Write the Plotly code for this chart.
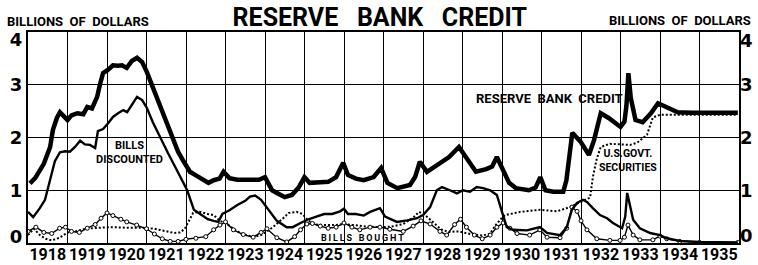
import plotly.graph_objects as go

# ---------------- data (billions of dollars) ----------------
credit_x = [1918.05, 1918.18, 1918.4, 1918.56, 1918.63, 1918.73, 1918.81, 1918.92, 1919.0, 1919.1,
            1919.25, 1919.4, 1919.5, 1919.62, 1919.68, 1919.75, 1919.82, 1919.9, 1920.02, 1920.15,
            1920.28, 1920.38, 1920.5, 1920.63, 1920.76, 1920.89, 1921.01, 1921.14, 1921.29, 1921.47,
            1921.65, 1921.8, 1921.92, 1922.1, 1922.23, 1922.4, 1922.57, 1922.7, 1922.85, 1922.95,
            1923.1, 1923.3, 1923.6, 1923.85, 1924.0, 1924.18, 1924.35, 1924.5, 1924.68, 1924.85,
            1925.0, 1925.13, 1925.4, 1925.6, 1925.8, 1925.98, 1926.1, 1926.3, 1926.5, 1926.75,
            1926.94, 1927.1, 1927.35, 1927.67, 1927.8, 1927.92, 1928.1, 1928.3, 1928.47, 1928.66,
            1928.91, 1929.09, 1929.34, 1929.6, 1929.75, 1929.87, 1930.0, 1930.18, 1930.35, 1930.5,
            1930.68, 1930.85, 1930.97, 1931.1, 1931.3, 1931.55, 1931.63, 1931.78, 1932.0, 1932.2,
            1932.33, 1932.5, 1932.7, 1933.0, 1933.1, 1933.15, 1933.2, 1933.26, 1933.38, 1933.56,
            1933.77, 1933.95, 1934.2, 1934.45, 1934.8, 1935.3, 1935.97]
credit_y = [1.13, 1.23, 1.5, 1.82, 2.14, 2.37, 2.48, 2.4, 2.33, 2.42,
            2.46, 2.44, 2.58, 2.55, 2.64, 2.77, 3.0, 3.22, 3.28, 3.37,
            3.36, 3.37, 3.32, 3.45, 3.51, 3.43, 3.24, 2.99, 2.67, 2.37,
            2.01, 1.73, 1.57, 1.35, 1.29, 1.22, 1.14, 1.19, 1.22, 1.35,
            1.23, 1.2, 1.19, 1.2, 1.25, 1.0, 0.93, 0.87, 0.91, 1.05,
            1.25, 1.14, 1.15, 1.16, 1.25, 1.52, 1.29, 1.22, 1.19, 1.25,
            1.42, 1.14, 1.04, 1.1, 1.25, 1.54, 1.35, 1.45, 1.52, 1.63,
            1.82, 1.63, 1.35, 1.4, 1.45, 1.63, 1.42, 1.14, 1.04, 1.02,
            1.0, 1.05, 1.25, 1.0, 0.97, 0.97, 1.19, 2.09, 1.91, 1.67,
            1.95, 2.46, 2.37, 2.2, 2.3, 2.6, 3.22, 2.75, 2.33, 2.29,
            2.46, 2.65, 2.56, 2.48, 2.47, 2.47, 2.47]

discounted_x = [1918.0, 1918.13, 1918.3, 1918.43, 1918.56, 1918.68, 1918.81, 1918.94, 1919.06, 1919.19,
                1919.32, 1919.44, 1919.57, 1919.7, 1919.77, 1919.9, 1920.03, 1920.15, 1920.28, 1920.41,
                1920.51, 1920.63, 1920.76, 1920.89, 1921.01, 1921.16, 1921.34, 1921.54, 1921.77, 1921.9,
                1922.03, 1922.2, 1922.4, 1922.55, 1922.7, 1922.82, 1922.92, 1923.1, 1923.3, 1923.5,
                1923.62, 1923.75, 1923.9, 1924.1, 1924.3, 1924.55, 1924.7, 1924.9, 1925.1, 1925.3,
                1925.5, 1925.7, 1925.9, 1926.0, 1926.1, 1926.3, 1926.5, 1926.66, 1926.91, 1927.04,
                1927.34, 1927.6, 1927.85, 1928.0, 1928.18, 1928.35, 1928.48, 1928.68, 1928.86, 1929.01,
                1929.19, 1929.36, 1929.52, 1929.7, 1929.87, 1930.0, 1930.12, 1930.28, 1930.63, 1930.96,
                1931.14, 1931.47, 1931.64, 1931.77, 1931.9, 1932.05, 1932.15, 1932.3, 1932.48, 1932.66,
                1932.81, 1933.04, 1933.12, 1933.17, 1933.24, 1933.32, 1933.49, 1933.75, 1934.0, 1934.17,
                1934.5, 1935.0, 1935.97]
discounted_y = [0.59, 0.49, 0.66, 0.82, 1.2, 1.55, 1.72, 1.74, 1.73, 1.82,
                1.94, 1.87, 1.86, 1.8, 2.12, 2.16, 2.27, 2.39, 2.46, 2.52,
                2.48, 2.62, 2.77, 2.71, 2.56, 2.29, 2.01, 1.71, 1.38, 1.2,
                1.0, 0.63, 0.52, 0.45, 0.42, 0.4, 0.55, 0.62, 0.72, 0.8,
                0.88, 0.9, 0.82, 0.63, 0.42, 0.3, 0.3, 0.38, 0.45, 0.5,
                0.55, 0.55, 0.6, 0.65, 0.55, 0.55, 0.52, 0.59, 0.66, 0.5,
                0.4, 0.43, 0.47, 0.53, 0.68, 1.0, 1.06, 1.0, 0.94, 1.0,
                0.97, 1.06, 1.04, 1.0, 0.91, 0.59, 0.3, 0.25, 0.24, 0.3,
                0.19, 0.15, 0.3, 0.63, 0.76, 0.82, 0.78, 0.66, 0.53, 0.47,
                0.38, 0.28, 0.5, 0.95, 0.68, 0.44, 0.28, 0.19, 0.15, 0.09,
                0.04, 0.02, 0.01]

bought_x = [1918.0, 1918.2, 1918.4, 1918.6, 1918.8, 1918.95, 1919.1, 1919.3, 1919.5, 1919.7,
            1919.85, 1920.0, 1920.15, 1920.35, 1920.5, 1920.75, 1921.0, 1921.2, 1921.4, 1921.6,
            1921.8, 1922.0, 1922.25, 1922.5, 1922.7, 1922.86, 1923.0, 1923.2, 1923.45, 1923.7,
            1923.9, 1924.05, 1924.3, 1924.55, 1924.75, 1924.9, 1925.06, 1925.2, 1925.4, 1925.6,
            1925.8, 1926.0, 1926.2, 1926.4, 1926.66, 1926.91, 1927.16, 1927.5, 1927.75, 1927.95,
            1928.18, 1928.43, 1928.6, 1928.8, 1928.95, 1929.1, 1929.3, 1929.5, 1929.7, 1929.87,
            1930.03, 1930.2, 1930.38, 1930.7, 1930.96, 1931.14, 1931.47, 1931.64, 1931.77, 1931.9,
            1932.0, 1932.15, 1932.4, 1932.73, 1932.99, 1933.1, 1933.19, 1933.32, 1933.49, 1933.82,
            1934.0, 1934.17, 1934.5, 1935.0, 1935.97]
bought_y = [0.22, 0.3, 0.2, 0.18, 0.28, 0.3, 0.22, 0.2, 0.28, 0.35,
            0.47, 0.57, 0.52, 0.45, 0.4, 0.34, 0.27, 0.17, 0.08, 0.03,
            0.03, 0.07, 0.09, 0.12, 0.25, 0.34, 0.4, 0.25, 0.16, 0.11,
            0.2, 0.27, 0.1, 0.02, 0.12, 0.25, 0.36, 0.37, 0.32, 0.28,
            0.3, 0.38, 0.3, 0.25, 0.3, 0.3, 0.26, 0.22, 0.32, 0.42,
            0.36, 0.22, 0.15, 0.35, 0.45, 0.3, 0.15, 0.08, 0.15, 0.3,
            0.38, 0.28, 0.18, 0.15, 0.25, 0.11, 0.1, 0.28, 0.68, 0.6,
            0.42, 0.25, 0.08, 0.05, 0.05, 0.11, 0.34, 0.15, 0.06, 0.06,
            0.13, 0.08, 0.03, 0.01, 0.01]

govt_x = [1918.0, 1918.15, 1918.3, 1918.45, 1918.6, 1918.8, 1919.0, 1919.2, 1919.4, 1919.6,
          1919.85, 1920.1, 1920.5, 1920.9, 1921.2, 1921.5, 1921.7, 1921.85, 1921.97, 1922.18,
          1922.35, 1922.55, 1922.7, 1922.86, 1923.0, 1923.2, 1923.4, 1923.7, 1923.9, 1924.05,
          1924.2, 1924.46, 1924.6, 1924.8, 1924.95, 1925.1, 1925.3, 1925.5, 1925.8, 1926.0,
          1926.3, 1926.6, 1926.9, 1927.2, 1927.5, 1927.75, 1927.9, 1928.05, 1928.25, 1928.45,
          1928.65, 1928.9, 1929.2, 1929.5, 1929.7, 1929.85, 1930.0, 1930.08, 1930.46, 1930.96,
          1931.39, 1931.72, 1932.05, 1932.23, 1932.3, 1932.4, 1932.5, 1932.73, 1933.0, 1933.24,
          1933.42, 1933.67, 1933.82, 1934.0, 1935.97]
govt_y = [0.15, 0.27, 0.15, 0.08, 0.05, 0.1, 0.2, 0.22, 0.26, 0.28,
          0.29, 0.3, 0.29, 0.29, 0.27, 0.22, 0.19, 0.2, 0.27, 0.57,
          0.59, 0.55, 0.53, 0.42, 0.38, 0.27, 0.18, 0.11, 0.15, 0.22,
          0.3, 0.47, 0.57, 0.59, 0.55, 0.42, 0.35, 0.34, 0.34, 0.36,
          0.33, 0.31, 0.3, 0.31, 0.36, 0.48, 0.59, 0.53, 0.4, 0.26,
          0.21, 0.22, 0.17, 0.14, 0.18, 0.35, 0.48, 0.53, 0.59, 0.63,
          0.6, 0.68, 0.8, 0.86, 1.25, 1.6, 1.82, 1.88, 1.87, 1.86,
          1.9, 2.05, 2.38, 2.43, 2.43]

years = list(range(1918, 1936))
year_labels = [str(y) for y in years]
y_grid = [1, 2, 3]
y_labels = ["0", "1", "2", "3", "4"]
# label positions: the end labels sit just inside the frame, as in the original
y_label_pos_left = [0.12, 1, 2, 3, 3.85]
y_label_pos_right = [0.13, 1, 2, 3, 3.83]

NARROW = "Roboto, Liberation Sans, sans-serif"
WIDE = "DejaVu Sans, Verdana, sans-serif"
SP = "\u00a0"

fig = go.Figure()
fig.add_trace(go.Scatter(x=govt_x, y=govt_y, mode="lines",
                         line=dict(color="black", width=2, dash="2px,2px"),
                         name="U.S. Govt. securities"))
fig.add_trace(go.Scatter(x=bought_x, y=bought_y, mode="lines+markers",
                         line=dict(color="black", width=1.4),
                         marker=dict(symbol="circle", size=4, color="white",
                                     line=dict(color="black", width=1)),
                         name="Bills bought"))
fig.add_trace(go.Scatter(x=discounted_x, y=discounted_y, mode="lines",
                         line=dict(color="black", width=2.4), name="Bills discounted"))
fig.add_trace(go.Scatter(x=credit_x, y=credit_y, mode="lines",
                         line=dict(color="black", width=4.5), name="Reserve bank credit"))
# invisible trace to activate right-hand axis
fig.add_trace(go.Scatter(x=[1918], y=[0], yaxis="y2", mode="markers",
                         marker=dict(opacity=0), hoverinfo="skip", showlegend=False))

annotations = [
    dict(text=f"BILLIONS{SP*2}OF{SP*2}DOLLARS", xref="paper", yref="paper",
         x=-0.0323, y=1.05, xanchor="left", yanchor="middle", showarrow=False,
         font=dict(family=NARROW, size=13, color="black", weight="bold")),
    dict(text=f"BILLIONS{SP*2}OF{SP*2}DOLLARS", xref="paper", yref="paper",
         x=1.0197, y=1.055, xanchor="right", yanchor="middle", showarrow=False,
         font=dict(family=NARROW, size=13, color="black", weight="bold")),
    dict(text=f"RESERVE{SP*2}BANK{SP*2}CREDIT", x=1931.2, y=2.73, showarrow=False,
         font=dict(family=NARROW, size=13, color="black", weight="bold")),
    dict(text="BILLS<br>DISCOUNTED", x=1920.56, y=1.71, showarrow=False,
         font=dict(family=NARROW, size=11, color="black", weight="bold")),
    dict(text="U.S.GOVT.<br>SECURITIES", x=1933.19, y=1.57, showarrow=False,
         font=dict(family=NARROW, size=10.5, color="black", weight="bold")),
    dict(text="B\u2009I\u2009L\u2009L\u2009S" + SP * 3 + "B\u2009O\u2009U\u2009G\u2009H\u2009T",
         x=1926.46, y=0.095, showarrow=False,
         font=dict(family=NARROW, size=9, color="black", weight="bold")),
]

fig.update_layout(
    width=758, height=265,
    margin=dict(l=28, r=19, t=32, b=22, autoexpand=False),
    paper_bgcolor="white", plot_bgcolor="white",
    showlegend=False,
    title=dict(text=f"RESERVE{SP*3}BANK{SP*3}CREDIT", x=0.501, xanchor="center",
               y=1 - 17 / 265, yanchor="middle",
               font=dict(family=NARROW, size=25, color="black", weight="bold")),
    xaxis=dict(range=[1918, 1936], tickmode="array", automargin=False,
               tickvals=[y + 0.5 for y in years], ticktext=year_labels, tickangle=0,
               ticklabelstandoff=-4,
               showgrid=False, zeroline=False, ticks="",
               showline=True, linecolor="black", linewidth=2, mirror=True,
               tickfont=dict(family=NARROW, size=16, color="black", weight="bold"),
               minor=dict(tickmode="linear", tick0=1918, dtick=1, showgrid=True,
                          gridcolor="black", gridwidth=1.3, ticks="")),
    yaxis=dict(range=[0, 4], tickmode="array", tickvals=y_label_pos_left, ticktext=y_labels,
               automargin=False, showgrid=False, zeroline=False, ticks="",
               showline=True, linecolor="black", linewidth=2, mirror=True,
               tickfont=dict(family=WIDE, size=18, color="black", weight="bold"),
               minor=dict(tickmode="array", tickvals=y_grid, showgrid=True,
                          gridcolor="black", gridwidth=1.3, ticks="")),
    yaxis2=dict(range=[0, 4], overlaying="y", side="right", tickmode="array",
                automargin=False,
                tickvals=y_label_pos_right, ticktext=y_labels, showgrid=False, zeroline=False,
                ticks="", showline=False,
                tickfont=dict(family=WIDE, size=18, color="black", weight="bold")),
    annotations=annotations,
)

fig.write_html("out.html", config={"displayModeBar": False},
               post_script="document.body.style.margin='0';")
